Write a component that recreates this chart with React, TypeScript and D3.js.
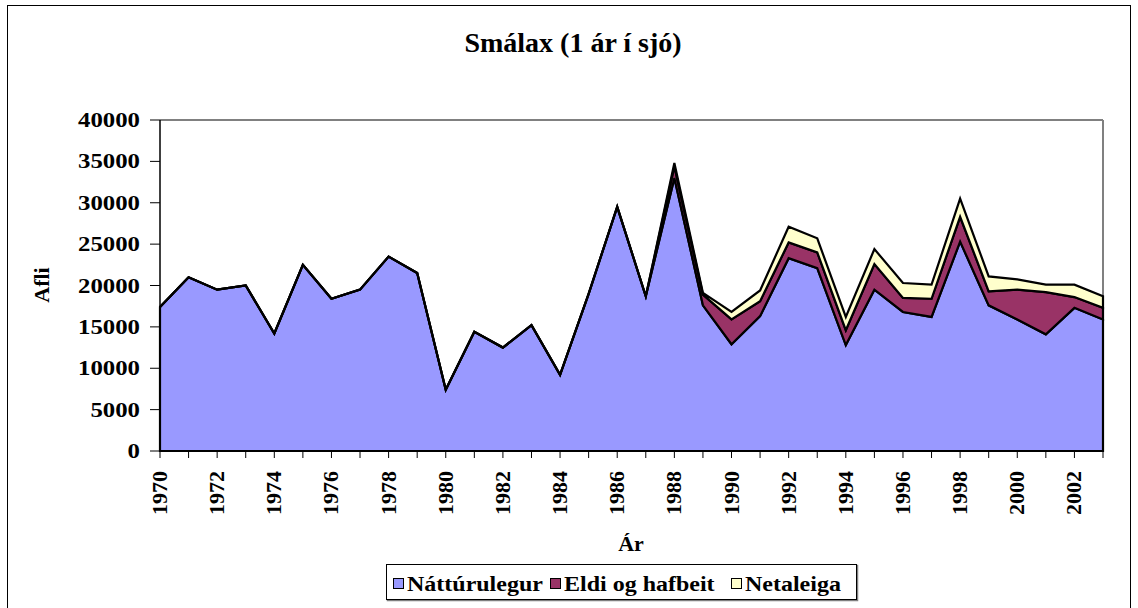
import React from "react";
import * as d3 from "d3";

const years: number[] = [
  1970, 1971, 1972, 1973, 1974, 1975, 1976, 1977, 1978, 1979,
  1980, 1981, 1982, 1983, 1984, 1985, 1986, 1987, 1988, 1989,
  1990, 1991, 1992, 1993, 1994, 1995, 1996, 1997, 1998, 1999,
  2000, 2001, 2002, 2003,
];

const nattúrulegur: number[] = [
  17400, 21000, 19500, 20000, 14200, 22500, 18400, 19500, 23500, 21500,
  7400, 14400, 12500, 15200, 9200, 19000, 29500, 18700, 33000, 17600,
  12900, 16300, 23300, 22100, 12800, 19500, 16800, 16200, 25300, 17600,
  15900, 14100, 17300, 15900,
];

const eldiOgHafbeit: number[] = [
  0, 0, 0, 0, 0, 0, 0, 0, 0, 0,
  0, 0, 0, 0, 0, 0, 0, 0, 1400, 1300,
  3000, 1800, 1900, 1900, 1800, 3100, 1700, 2200, 3000, 1700,
  3600, 5100, 1300, 1400,
];

const netaleiga: number[] = [
  0, 0, 0, 0, 0, 0, 0, 0, 0, 0,
  0, 0, 0, 0, 0, 0, 0, 0, 400, 200,
  900, 1300, 1900, 1700, 1600, 1800, 1800, 1700, 2200, 1800,
  1250, 900, 1500, 1400,
];

const seriesNames = ["Náttúrulegur", "Eldi og hafbeit", "Netaleiga"];
const seriesColors = ["#9999FF", "#993366", "#FFFFCC"];
const yTicks = [0, 5000, 10000, 15000, 20000, 25000, 30000, 35000, 40000];
const xLabelYears = years.filter((y) => (y - 1970) % 2 === 0);

const FONT = "Liberation Serif";

export default function App() {
  const W = 1138;
  const H = 608;
  const left = 160;
  const right = 1103;
  const top = 120;
  const bottom = 451;

  const x = d3.scaleLinear().domain([1970, 2003]).range([left, right]);
  const y = d3.scaleLinear().domain([0, 40000]).range([bottom, top]);

  const rows = years.map((yr, i) => ({
    year: yr,
    n: nattúrulegur[i],
    e: eldiOgHafbeit[i],
    t: netaleiga[i],
  }));
  const stack = d3.stack<any>().keys(["n", "e", "t"]);
  const layers = stack(rows);
  const area = d3
    .area<any>()
    .x((d) => x(d.data.year))
    .y0((d) => y(d[0]))
    .y1((d) => y(d[1]));

  const legendItems = [
    { sx: 393, tx: 407 },
    { sx: 550, tx: 564 },
    { sx: 731, tx: 745 },
  ];

  const txt = { fontFamily: FONT, fontWeight: 700 as const };

  return (
    <svg
      width={W}
      height={H}
      style={{ position: "absolute", left: 0, top: 0, background: "#fff" }}
    >
      <rect x={0} y={0} width={W} height={H} fill="#fff" />
      <rect x={7.5} y={5.5} width={1123} height={610} fill="none" stroke="#000" strokeWidth={1} />

      <text x={573} y={52} textAnchor="middle" fontSize={28} style={txt}>
        Smálax (1 ár í sjó)
      </text>

      {/* plot border top/right */}
      <line x1={left} x2={right} y1={top} y2={top} stroke="#808080" strokeWidth={2} />
      <line x1={right} x2={right} y1={top} y2={bottom} stroke="#808080" strokeWidth={2} />

      {layers.map((layer, i) => (
        <path
          key={i}
          d={area(layer as any) || ""}
          fill={seriesColors[i]}
          stroke="#000"
          strokeWidth={2.2}
          strokeLinejoin="miter"
        />
      ))}

      {/* axes */}
      <line x1={left} x2={left} y1={top} y2={bottom} stroke="#000" strokeWidth={1.5} />
      <line x1={left} x2={right} y1={bottom} y2={bottom} stroke="#000" strokeWidth={2} />

      {yTicks.map((t) => (
        <g key={t}>
          <line x1={150} x2={left} y1={y(t)} y2={y(t)} stroke="#000" strokeWidth={1} />
          <text
            transform={`translate(140,${y(t) + 7}) scale(1.24,1)`}
            textAnchor="end"
            fontSize={20}
            style={txt}
          >
            {t}
          </text>
        </g>
      ))}

      {years.map((yr) => (
        <line key={yr} x1={x(yr)} x2={x(yr)} y1={bottom} y2={458} stroke="#000" strokeWidth={1} />
      ))}
      {xLabelYears.map((yr) => (
        <text
          key={yr}
          transform={`translate(${x(yr) + 7},471) rotate(-90)`}
          textAnchor="end"
          fontSize={22}
          style={txt}
        >
          {yr}
        </text>
      ))}

      <text x={631} y={551} textAnchor="middle" fontSize={22} style={txt}>
        Ár
      </text>
      <text
        transform={`translate(49,285) rotate(-90)`}
        textAnchor="middle"
        fontSize={22}
        style={txt}
      >
        Afli
      </text>

      {/* legend */}
      <rect x={387.5} y={565.5} width={470} height={35} fill="none" stroke="#808080" strokeWidth={1.5} />
      <rect x={386.5} y={564.5} width={470} height={35} fill="#fff" stroke="#000" strokeWidth={1} />
      {seriesNames.map((name, i) => (
        <g key={name}>
          <rect
            x={legendItems[i].sx + 0.5}
            y={578.5}
            width={10}
            height={10}
            fill={seriesColors[i]}
            stroke="#000"
            strokeWidth={1}
          />
          <text
            transform={`translate(${legendItems[i].tx},591) scale(1.2,1)`}
            fontSize={20}
            style={txt}
          >
            {name}
          </text>
        </g>
      ))}
    </svg>
  );
}
